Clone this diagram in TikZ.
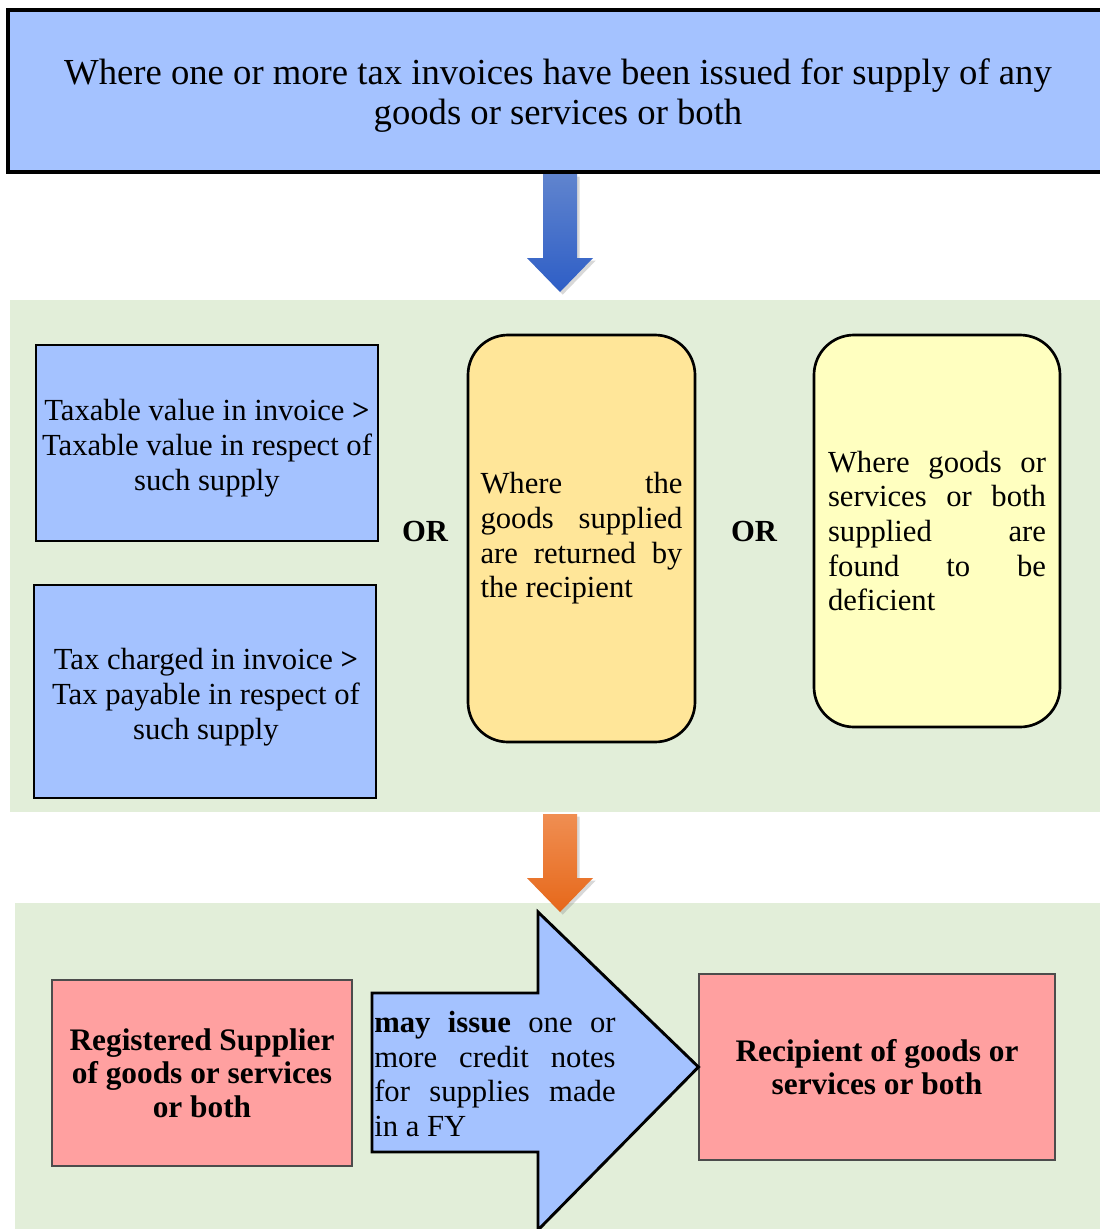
\documentclass[tikz,border=0pt]{standalone}
\usepackage{fontspec}
\setmainfont{Liberation Serif}
\usetikzlibrary{positioning,fit,shadows,calc}
\definecolor{boxblue}{RGB}{164,194,255}
\definecolor{bandgreen}{RGB}{226,238,217}
\definecolor{retorange}{RGB}{255,230,153}
\definecolor{defyellow}{RGB}{255,255,192}
\definecolor{partypink}{RGB}{255,160,160}
\definecolor{arrblueA}{RGB}{96,132,206}
\definecolor{arrblueB}{RGB}{46,94,198}
\definecolor{arrorA}{RGB}{240,142,82}
\definecolor{arrorB}{RGB}{230,104,26}
\begin{document}
\begin{tikzpicture}[x=0.75pt,y=-0.75pt,
    band/.style={fill=bandgreen, draw=none, inner sep=0pt},
    bluebox/.style={fill=boxblue, draw=black, line width=2pt, inner sep=0pt},
    roundbox/.style={draw=black, line width=2pt, rounded corners=30pt, inner sep=0pt},
    partybox/.style={fill=partypink, draw=black!70, line width=0.8pt, inner sep=0pt},
    boxtext/.style={inner sep=0pt, font=\fontsize{23}{26}\selectfont},
    partytext/.style={inner sep=0pt, align=center, font=\fontsize{23.5}{25}\selectfont\bfseries},
    orlabel/.style={font=\fontsize{23}{26}\selectfont\bfseries},
    downarrow/.style={draw=none, drop shadow={shadow xshift=2pt, shadow yshift=-2pt, opacity=.3}}
  ]
  \useasboundingbox (0,0) rectangle (1100,1229);
  \fill[white] (0,0) rectangle (1100,1229);

  \node[fill=boxblue, draw=black, line width=2.4pt, inner sep=0pt, fit={(8,10) (1104,172)}] (invoice) {};
  \node[inner sep=0pt, align=center, font=\fontsize{27.5}{30}\selectfont] (invoice-text) at (558,96) {Where one or more tax invoices have been issued for supply of any\\ goods or services or both};

  \node[band, fit={(10,300) (1104,812)}] (cases) {};
  \node[band, fit={(15,903) (1104,1233)}] (notes) {};

  \coordinate (bluetop) at (560,174);
  \coordinate (bluetip) at (560,292);
  \path[downarrow, top color=arrblueA, bottom color=arrblueB]
    ($(bluetop)+(-17,0)$) -- ($(bluetop)+(17,0)$) -- ($(bluetip)+(17,-34)$) -- ($(bluetip)+(33,-34)$)
    -- (bluetip) -- ($(bluetip)+(-33,-34)$) -- ($(bluetip)+(-17,-34)$) -- cycle;

  \node[bluebox, fit={(36,345) (378,541)}] (taxval) {};
  \node[boxtext, align=center] (taxval-text) at (207,448) {Taxable value in invoice \textbf{>}\\ Taxable value in respect of\\ such supply};
  \node[bluebox, fit={(34,585) (376,798)}] (taxchg) {};
  \node[boxtext, align=center] (taxchg-text) at (206,697) {Tax charged in invoice \textbf{>}\\ Tax payable in respect of\\ such supply};

  \node[orlabel] (or1) at (425,531) {OR};
  \node[roundbox, fill=retorange, fit={(468,335) (695,742)}] (returned) {};
  \node[boxtext, text width=151.5pt, align=justify] (returned-text) at (returned.center) {Where the\linebreak goods supplied\linebreak are returned by\linebreak the recipient};
  \node[orlabel] (or2) at (754,531) {OR};
  \node[roundbox, fill=defyellow, fit={(814,335) (1060,727)}] (deficient) {};
  \node[boxtext, text width=163.5pt, align=justify] (deficient-text) at (deficient.center) {Where goods or\linebreak services or both\linebreak supplied are\linebreak found to be\linebreak deficient};

  \coordinate (ortop) at (560,814);
  \coordinate (ortip) at (560,912);
  \path[downarrow, top color=arrorA, bottom color=arrorB]
    ($(ortop)+(-17,0)$) -- ($(ortop)+(17,0)$) -- ($(ortip)+(17,-34)$) -- ($(ortip)+(33,-34)$)
    -- (ortip) -- ($(ortip)+(-33,-34)$) -- ($(ortip)+(-17,-34)$) -- cycle;

  \node[partybox, fit={(52,980) (352,1166)}] (supplier) {};
  \node[partytext] (supplier-text) at (supplier.center) {Registered Supplier\\ of goods or services\\ or both};
  \node[partybox, fit={(699,974) (1055,1160)}] (recipient) {};
  \node[partytext] (recipient-text) at (recipient.center) {Recipient of goods or\\ services or both};

  \draw[fill=boxblue, line width=2.2pt, line join=miter]
    (372,993) -- (538,993) -- (538,912) -- (recipient.west) -- (538,1230) -- (538,1152) -- (372,1152) -- cycle;
  \node[boxtext, anchor=west, text width=181pt, align=justify] (mayissue) at (374,1074) {\textbf{may issue} one or\linebreak more credit notes\linebreak for supplies made\linebreak in a FY};
\end{tikzpicture}
\end{document}
